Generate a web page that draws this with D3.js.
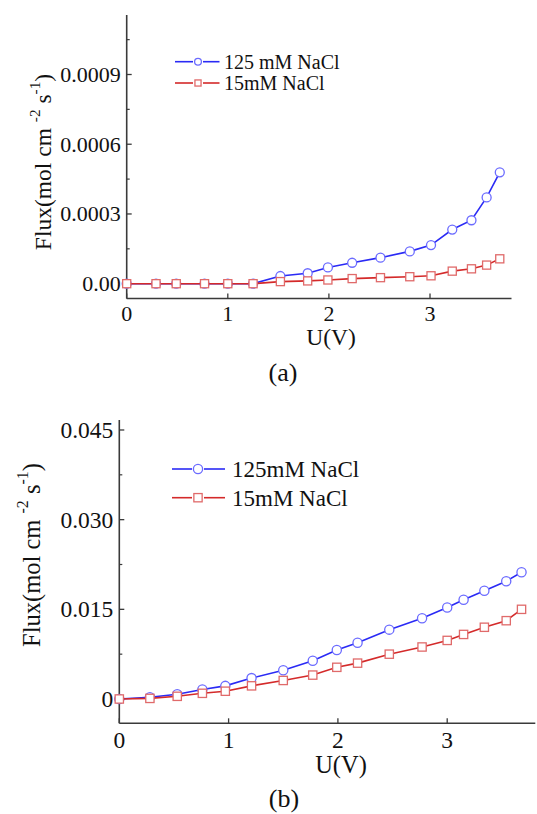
<!DOCTYPE html>
<html><head><meta charset="utf-8">
<script src="https://cdn.jsdelivr.net/npm/d3@7"></script>
<style>
html,body{margin:0;padding:0;background:#fff;}
svg{display:block;}
text{font-family:"Liberation Serif","Times New Roman",serif;fill:#111;}
</style></head>
<body>
<script>
// ---------- data ----------
const xA = [0, 0.29, 0.49, 0.77, 1.0, 1.25, 1.52, 1.79, 1.99, 2.23, 2.51, 2.80, 3.01, 3.22, 3.41, 3.56, 3.69];
const blueA = [0, 0, 0, 0, 0, 0, 0.000033, 0.000045, 0.00007, 0.00009, 0.000112, 0.000139, 0.000166, 0.000233, 0.000273, 0.000371, 0.000479];
const redA = [0, 0, 0, 0, 0, 0, 0.000009, 0.000012, 0.000016, 0.000022, 0.000026, 0.00003, 0.000034, 0.000054, 0.000064, 0.00008, 0.000107];
const xB = [0, 0.28, 0.53, 0.76, 0.97, 1.21, 1.50, 1.77, 1.99, 2.18, 2.47, 2.77, 3.0, 3.15, 3.34, 3.54, 3.68];
const blueB = [0, 0.0003, 0.0008, 0.0016, 0.0022, 0.0035, 0.0048, 0.0064, 0.0082, 0.0094, 0.0116, 0.0135, 0.0153, 0.0166, 0.0181, 0.0197, 0.0212];
const redB = [0, 0.0001, 0.00045, 0.00095, 0.0013, 0.0022, 0.0031, 0.0040, 0.0053, 0.0060, 0.0075, 0.0087, 0.0098, 0.0108, 0.0120, 0.0131, 0.0150];
const xTicks = [0, 1, 2, 3];
const xTickLabels = ["0", "1", "2", "3"];
const yTicksA = [0, 0.0003, 0.0006, 0.0009];
const yTickLabelsA = ["0.00", "0.0003", "0.0006", "0.0009"];
const yTicksB = [0, 0.015, 0.030, 0.045];
const yTickLabelsB = ["0", "0.015", "0.030", "0.045"];
const legendA = ["125 mM NaCl", "15mM NaCl"];
const legendB = ["125mM NaCl", "15mM NaCl"];
const captions = ["(a)", "(b)"];

const BLUE_LINE = "#2a2af5", BLUE_MK = "#6b6bff";
const RED_LINE = "#d42a2a", RED_MK = "#e06a6a";
const AXIS = "#3a3a3a";

const svg = d3.select("body").append("svg").attr("width", 537).attr("height", 814);

function panel(cfg) {
  const g = svg.append("g");
  const x = d3.scaleLinear().domain([0, 3.806]).range([cfg.left, cfg.right]);
  const y = d3.scaleLinear().domain(cfg.ydom).range([cfg.bottom, cfg.top]);

  g.append("line").attr("x1", cfg.left).attr("x2", cfg.left).attr("y1", cfg.top).attr("y2", cfg.bottom)
    .attr("stroke", AXIS).attr("stroke-width", 1.6);
  g.append("line").attr("x1", cfg.left).attr("x2", cfg.right).attr("y1", cfg.bottom).attr("y2", cfg.bottom)
    .attr("stroke", AXIS).attr("stroke-width", 1.6);

  xTicks.forEach((t, i) => {
    g.append("line").attr("x1", x(t)).attr("x2", x(t)).attr("y1", cfg.bottom).attr("y2", cfg.bottom - 5)
      .attr("stroke", AXIS).attr("stroke-width", 1.3);
    g.append("text").attr("x", x(t)).attr("y", cfg.xLabY).attr("text-anchor", "middle")
      .attr("font-size", cfg.tickFs).text(xTickLabels[i]);
  });
  const yt = cfg.yticks;
  yt.forEach((t, i) => {
    g.append("line").attr("x1", cfg.left).attr("x2", cfg.left + 5).attr("y1", y(t)).attr("y2", y(t))
      .attr("stroke", AXIS).attr("stroke-width", 1.3);
    g.append("text").attr("x", cfg.left - 6).attr("y", y(t)).attr("dy", "0.34em").attr("text-anchor", "end")
      .attr("font-size", cfg.tickFs).text(cfg.ylabels[i]);
    const m = t + (yt[1] - yt[0]) / 2;
    if (y(m) > cfg.top) {
      g.append("line").attr("x1", cfg.left).attr("x2", cfg.left + 3).attr("y1", y(m)).attr("y2", y(m))
        .attr("stroke", AXIS).attr("stroke-width", 1.2);
    }
  });

  g.append("text").attr("x", cfg.xTitleX).attr("y", cfg.xTitleY).attr("text-anchor", "middle")
    .attr("font-size", cfg.titleFs).text("U(V)");
  const yl = g.append("text").attr("transform", `translate(${cfg.yTitleX},${cfg.yTitleY}) rotate(-90)`)
    .attr("text-anchor", "middle").attr("font-size", cfg.titleFs);
  yl.append("tspan").text("Flux(mol cm ");
  yl.append("tspan").attr("font-size", "0.65em").attr("dy", "-0.7em").text("-2");
  yl.append("tspan").attr("dy", "0.455em").text(" s");
  yl.append("tspan").attr("font-size", "0.65em").attr("dy", "-0.7em").text("-1");
  yl.append("tspan").attr("dy", "0.455em").text(")");

  g.append("text").attr("x", cfg.capX).attr("y", cfg.capY).attr("text-anchor", "middle")
    .attr("font-size", cfg.capFs).text(cfg.caption);

  const line = d3.line().x(d => x(d[0])).y(d => y(d[1]));
  const series = [
    { xs: cfg.xs, ys: cfg.blue, lc: BLUE_LINE, mc: BLUE_MK, shape: "circle" },
    { xs: cfg.xs, ys: cfg.red, lc: RED_LINE, mc: RED_MK, shape: "square" }
  ];
  series.forEach(s => {
    const pts = s.xs.map((v, i) => [v, s.ys[i]]);
    g.append("path").attr("d", line(pts)).attr("fill", "none").attr("stroke", s.lc).attr("stroke-width", 1.6);
    pts.forEach(p => drawMarker(g, s.shape, x(p[0]), y(p[1]), cfg.mr, s.mc));
  });

  series.forEach((s, i) => {
    const ly = cfg.legY[i];
    const L = cfg.leg;
    g.append("line").attr("x1", L.x1).attr("x2", L.m - L.gap).attr("y1", ly).attr("y2", ly)
      .attr("stroke", s.lc).attr("stroke-width", 1.6);
    g.append("line").attr("x1", L.m + L.gap).attr("x2", L.x2).attr("y1", ly).attr("y2", ly)
      .attr("stroke", s.lc).attr("stroke-width", 1.6);
    drawMarker(g, s.shape, L.m, ly, L.r, s.mc);
    g.append("text").attr("x", L.tx).attr("y", ly).attr("dy", "0.34em").attr("font-size", cfg.legFs)
      .text(cfg.legend[i]);
  });
}

function drawMarker(g, shape, cx, cy, r, color) {
  if (shape === "circle") {
    g.append("circle").attr("cx", cx).attr("cy", cy).attr("r", r)
      .attr("fill", "#fff").attr("stroke", color).attr("stroke-width", 1.3);
  } else {
    const s = r * 0.9;
    g.append("rect").attr("x", cx - s).attr("y", cy - s).attr("width", 2 * s).attr("height", 2 * s)
      .attr("fill", "#fff").attr("stroke", color).attr("stroke-width", 1.3);
  }
}

panel({
  left: 126.7, right: 511.5, top: 15, bottom: 298.5,
  ydom: [-0.0000637, 0.001156], yticks: yTicksA, ylabels: yTickLabelsA,
  xs: xA, blue: blueA, red: redA,
  tickFs: 22, titleFs: 23.5, legFs: 20, capFs: 26,
  xLabY: 321, xTitleX: 331, xTitleY: 345, yTitleX: 51, yTitleY: 162,
  capX: 283, capY: 381, caption: captions[0],
  mr: 4.5,
  leg: { x1: 175, x2: 219.5, m: 198, gap: 5, r: 3.4, tx: 224 },
  legY: [61.7, 83], legend: legendA
});

panel({
  left: 119.3, right: 535.3, top: 420, bottom: 723.3,
  ydom: [-0.004065, 0.04667], yticks: yTicksB, ylabels: yTickLabelsB,
  xs: xB, blue: blueB, red: redB,
  tickFs: 23.5, titleFs: 24.5, legFs: 23, capFs: 26,
  xLabY: 748, xTitleX: 341, xTitleY: 773, yTitleX: 39.5, yTitleY: 555,
  capX: 284, capY: 807, caption: captions[1],
  mr: 4.6,
  leg: { x1: 172, x2: 225, m: 198, gap: 6, r: 4.6, tx: 232 },
  legY: [469, 497.7], legend: legendB
});
</script>
</body></html>
